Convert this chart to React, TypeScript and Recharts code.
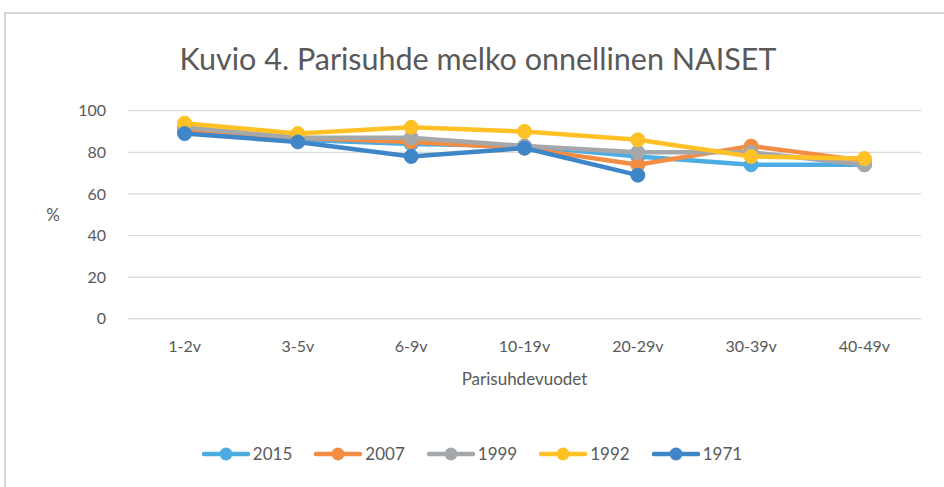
import React from 'react';
import { LineChart, Line, XAxis, YAxis, CartesianGrid, Legend } from 'recharts';

const categories = ['1-2v', '3-5v', '6-9v', '10-19v', '20-29v', '30-39v', '40-49v'];
const s2015 = [90, 86, 84, 83, 78, 74, 74];
const s2007 = [91, 87, 85, 82, 74, 83, 76];
const s1999 = [92, 87, 87, 83, 80, 80, 74];
const s1992 = [94, 89, 92, 90, 86, 78, 77];
const s1971: (number | null)[] = [89, 85, 78, 82, 69, null, null];
const yTicks = [0, 20, 40, 60, 80, 100];

const seriesDefs = [
  { key: 'y2015', name: '2015', values: s2015, color: '#4DACE1' },
  { key: 'y2007', name: '2007', values: s2007, color: '#F38D44' },
  { key: 'y1999', name: '1999', values: s1999, color: '#A5A8AB' },
  { key: 'y1992', name: '1992', values: s1992, color: '#FFC125' },
  { key: 'y1971', name: '1971', values: s1971, color: '#3F86C8' },
];

const data = categories.map((c, i) => {
  const row: Record<string, any> = { cat: c };
  seriesDefs.forEach((s) => {
    row[s.key] = s.values[i];
  });
  return row;
});

const FONT = 'Lato, "Open Sans", sans-serif';
const TXT = '#595959';

const renderLegend = () => {
  return (
    <div style={{ display: 'flex', justifyContent: 'center', width: 944, paddingLeft: 22, boxSizing: 'border-box', fontFamily: FONT, fontSize: 17, color: TXT }}>
      {seriesDefs.map((s) => (
        <div key={s.name} style={{ display: 'flex', alignItems: 'center', marginRight: 22 }}>
          <svg width={48} height={16} style={{ marginRight: 3 }}>
            <line x1={2} y1={8} x2={46} y2={8} stroke={s.color} strokeWidth={4.5} strokeLinecap="round" />
            <circle cx={24} cy={8} r={6.5} fill={s.color} />
          </svg>
          <span>{s.name}</span>
        </div>
      ))}
    </div>
  );
};

export default function App() {
  return (
    <div style={{ position: 'fixed', left: 0, top: 0, width: 944, height: 487, background: '#fff', overflow: 'hidden' }}>
      <div style={{ position: 'absolute', left: 0, top: 40, width: 956, textAlign: 'center', fontFamily: FONT, fontSize: 30.5, color: TXT }}>
        Kuvio 4. Parisuhde melko onnellinen NAISET
      </div>
      <div style={{ position: 'absolute', left: 0, top: 0 }}>
        <LineChart width={944} height={487} data={data} margin={{ top: 110.7, right: 23, bottom: 138.3, left: 88 }}>
          <CartesianGrid vertical={false} stroke="#D9D9D9" strokeWidth={1.2} />
          <XAxis
            dataKey="cat"
            padding={{ left: 56.6, right: 56.6 }}
            tickLine={false}
            axisLine={{ stroke: '#D9D9D9', strokeWidth: 1.2 }}
            tickSize={0}
            tickMargin={22}
            tick={{ fill: TXT, fontSize: 16, fontFamily: FONT }}
            label={{ value: 'Parisuhdevuodet', position: 'bottom', offset: 24, fill: TXT, fontSize: 17, fontFamily: FONT }}
          />
          <YAxis
            width={40}
            domain={[0, 100]}
            ticks={yTicks}
            tickLine={false}
            axisLine={false}
            tickSize={0}
            tickMargin={22}
            tick={{ fill: TXT, fontSize: 16, fontFamily: FONT }}
            label={{ value: '%', angle: 0, position: 'left', offset: 28, fill: TXT, fontSize: 17, fontFamily: FONT }}
          />
          <Legend verticalAlign="middle" align="center" layout="horizontal" content={renderLegend} wrapperStyle={{ top: 443, left: 0, width: 944 }} />
          {seriesDefs.map((s) => (
            <Line
              key={s.key}
              dataKey={s.key}
              name={s.name}
              stroke={s.color}
              strokeWidth={4.5}
              dot={{ r: 7, fill: s.color, stroke: s.color, strokeWidth: 1 }}
              activeDot={false}
              isAnimationActive={false}
              connectNulls={false}
            />
          ))}
        </LineChart>
      </div>
      <div style={{ position: 'absolute', left: 4, top: 12, width: 1000, height: 2, background: '#D6D6D6', zIndex: 10, pointerEvents: 'none' }} />
      <div style={{ position: 'absolute', left: 4, top: 12, width: 2, height: 500, background: '#D6D6D6', zIndex: 10, pointerEvents: 'none' }} />
    </div>
  );
}
